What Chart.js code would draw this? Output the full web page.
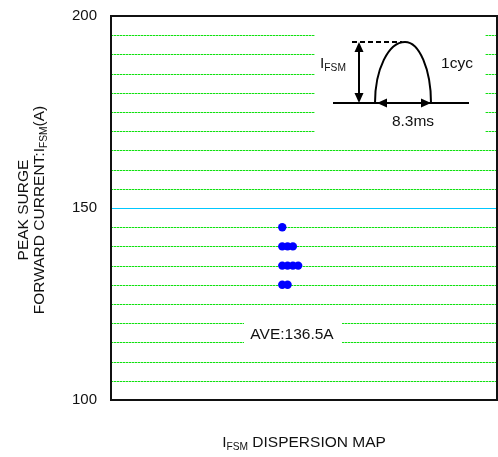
<!DOCTYPE html>
<html>
<head>
<meta charset="utf-8">
<script src="https://cdn.jsdelivr.net/npm/chart.js@4/dist/chart.umd.min.js"></script>
<style>
  body { margin: 0; background: #fff; }
  #wrap { width: 498px; height: 457px; }
</style>
</head>
<body>
<div id="wrap"><canvas id="c"></canvas></div>
<script>
// measured surge currents (A), one dot per sample
const surgeValues = [145, 140, 140, 140, 135, 135, 135, 135, 130, 130];
const yTicks = [100, 150, 200];
const yMin = 100;
const yMax = 200;
const refLine = 150;

const FONT = "'Liberation Sans', Arial, sans-serif";
const GREEN = '#11e011';
const CYAN = '#00c8ff';

// stack repeated values side by side: x = position within its level
const seen = {};
const points = surgeValues.map(v => {
    seen[v] = (seen[v] || 0) + 1;
    return { x: seen[v] - 1, y: v };
});
const average = surgeValues.reduce((a, b) => a + b, 0) / surgeValues.length;

// text with a subscript piece, parts = [[text, isSub], ...]
function drawParts(ctx, parts, x, y, size) {
    const subSize = size * 0.66;
    let w = 0;
    parts.forEach(([t, sub]) => {
        ctx.font = (sub ? subSize : size) + 'px ' + FONT;
        w += ctx.measureText(t).width;
    });
    let cx = x - w / 2;
    ctx.textAlign = 'left';
    ctx.textBaseline = 'alphabetic';
    parts.forEach(([t, sub]) => {
        ctx.font = (sub ? subSize : size) + 'px ' + FONT;
        ctx.fillText(t, cx, y + (sub ? size * 0.18 : 0));
        cx += ctx.measureText(t).width;
    });
}

function arrowHead(ctx, x, y, dx, dy) {
    // tip at (x,y), pointing along (dx,dy)
    const len = 10, half = 4.5;
    const px = -dy, py = dx;
    ctx.beginPath();
    ctx.moveTo(x, y);
    ctx.lineTo(x - dx * len + px * half, y - dy * len + py * half);
    ctx.lineTo(x - dx * len - px * half, y - dy * len - py * half);
    ctx.closePath();
    ctx.fill();
}

const decorPlugin = {
    id: 'decor',
    beforeDatasetsDraw(chart) {
        const { ctx, scales: { y } } = chart;
        const a = chart.chartArea;
        const l = Math.round(a.left), w = Math.round(a.right) - l;
        ctx.save();
        // grid rows, dotted green, the 150 line solid cyan
        y.ticks.forEach(t => {
            if (t.value === yMin || t.value === yMax) return;
            const py = Math.round(y.getPixelForValue(t.value));
            if (t.value === refLine) {
                ctx.fillStyle = CYAN;
                ctx.fillRect(l, py, w, 1);
                return;
            }
            ctx.fillStyle = '#9cf59c';
            ctx.fillRect(l, py, w, 1);
            ctx.fillStyle = GREEN;
            for (let x = l; x < l + w; x += 3) ctx.fillRect(x, py, 2, 1);
        });
        // white patches behind inset and average label
        ctx.fillStyle = '#fff';
        ctx.fillRect(315, 25, 170, 115);
        ctx.fillRect(244, 315, 98, 35);
        ctx.restore();
    },
    afterDatasetsDraw(chart) {
        const { ctx } = chart;
        const a = chart.chartArea;
        ctx.save();
        ctx.fillStyle = '#000';
        ctx.strokeStyle = '#000';
        ctx.lineWidth = 2;

        // surge waveform inset
        const base = 103, top = 42;
        ctx.beginPath();
        ctx.moveTo(333, base);
        ctx.lineTo(469, base);
        ctx.stroke();
        ctx.beginPath();
        ctx.moveTo(375, base);
        ctx.bezierCurveTo(375, base - 61 * 0.55, 405 - 30 * 0.55, top, 405, top);
        ctx.bezierCurveTo(405 + 26 * 0.55, top, 431, base - 61 * 0.55, 431, base);
        ctx.stroke();
        ctx.setLineDash([5, 3]);
        ctx.beginPath();
        ctx.moveTo(352, top);
        ctx.lineTo(402, top);
        ctx.stroke();
        ctx.setLineDash([]);
        ctx.beginPath();
        ctx.moveTo(359, top + 6);
        ctx.lineTo(359, base - 6);
        ctx.moveTo(383, base);
        ctx.lineTo(425, base);
        ctx.stroke();
        arrowHead(ctx, 359, top, 0, -1);
        arrowHead(ctx, 359, base, 0, 1);
        arrowHead(ctx, 377, base, -1, 0);
        arrowHead(ctx, 431, base, 1, 0);

        ctx.fillStyle = '#111';
        drawParts(ctx, [['I', false], ['FSM', true]], 333, 68, 15.5);
        drawParts(ctx, [['1cyc', false]], 457, 68, 15.5);
        drawParts(ctx, [['8.3ms', false]], 413, 126, 15.5);
        drawParts(ctx, [['AVE:' + average.toFixed(1) + 'A', false]], 292, 339, 15.5);

        // plot frame
        ctx.strokeStyle = '#111';
        ctx.lineWidth = 2;
        ctx.strokeRect(a.left, a.top, a.right - a.left, a.bottom - a.top);

        // axis titles
        drawParts(ctx, [['I', false], ['FSM', true], [' DISPERSION MAP', false]], 304, 447, 15.5);
        ctx.translate(0, 210);
        ctx.rotate(-Math.PI / 2);
        drawParts(ctx, [['PEAK SURGE', false]], 0, 28, 15.5);
        drawParts(ctx, [['FORWARD CURRENT:I', false], ['FSM', true], ['(A)', false]], 0, 44, 15.5);
        ctx.restore();
    }
};

new Chart(document.getElementById('c'), {
    type: 'scatter',
    data: {
        datasets: [{
            data: points,
            backgroundColor: '#0000ff',
            borderWidth: 0,
            pointRadius: 4.2,
            pointHoverRadius: 4.2,
        }],
    },
    options: {
        responsive: true,
        maintainAspectRatio: false,
        animation: false,
        events: [],
        layout: { autoPadding: false, padding: { top: 16, right: 1, bottom: 57, left: 0 } },
        plugins: { legend: { display: false }, tooltip: { enabled: false } },
        scales: {
            x: {
                display: false,
                min: -32.3,
                max: 40.5,
            },
            y: {
                min: yMin,
                max: yMax,
                afterFit: s => {
                    s.width = 111;
                    s.paddingTop = 0;
                    s.paddingBottom = 0;
                },
                ticks: {
                    stepSize: 5,
                    autoSkip: false,
                    padding: 14,
                    color: '#111',
                    font: { family: FONT, size: 15 },
                    callback: v => (yTicks.includes(v) ? String(v) : ''),
                },
                border: { display: false },
                grid: { display: false, drawTicks: false },
            },
        },
    },
    plugins: [decorPlugin],
});
</script>
</body>
</html>
